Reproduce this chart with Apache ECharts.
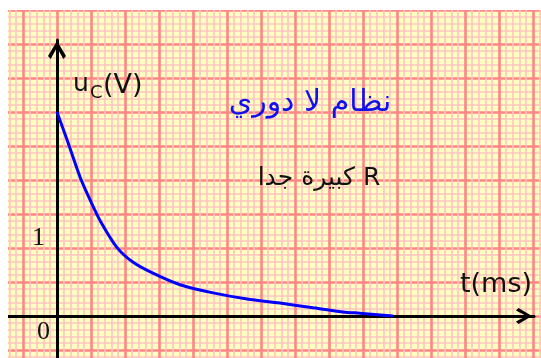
<!DOCTYPE html>
<html>
<head>
<meta charset="utf-8">
<script src="https://cdn.jsdelivr.net/npm/echarts@6/dist/echarts.min.js"></script>
<style>
  html, body { margin: 0; padding: 0; background: #fff; }
  #chart { width: 541px; height: 358px; }
</style>
</head>
<body>
<div id="chart"></div>
<script>
// discharge of the capacitor
// t in ms (one big square = 1), uC in volts
var tValues  = [0, 0.29, 0.68, 0.97, 1.26, 1.76, 2.24, 2.82, 3.62, 4.59, 5.59, 6.56, 7.53, 8.41, 8.91, 9.88];
var ucValues = [3.0, 2.60, 2.04, 1.71, 1.41, 1.01, 0.79, 0.63, 0.46, 0.34, 0.25, 0.19, 0.12, 0.06, 0.04, 0.0];
var yTickLabels = [0, 1];
var yAxisName = 'V';
var xAxisName = 't(ms)';
var titleText = 'نظام لا دوري';
var noteText = '\u202BR كبيرة جدا\u202C';

var curve = [];
for (var i = 0; i < tValues.length; i++) {
  curve.push([tValues[i], ucValues[i]]);
}

// open arrow head, pointing up (echarts turns it along the axis)
var arrowPath = 'path://M5,0 L10,8.4 L8.5,10 L5,3.6 L1.5,10 L0,8.4 Z';

var myChart = echarts.init(document.getElementById('chart'), null, { renderer: 'canvas' });

var option = {
  backgroundColor: '#ffffff',
  animation: false,
  grid: [
    // graph paper
    { left: -11, top: -24, width: 578, height: 408, show: true, outerBoundsMode: 'none',
      backgroundColor: '#FFFFC2', borderWidth: 0, z: 0 },
    // the plot itself
    { left: 8, top: 40, right: 7, bottom: 0, outerBoundsMode: 'none' }
  ],
  xAxis: [
    {
      gridIndex: 0, type: 'value', min: 0, max: 17, interval: 1,
      axisLine: { show: false }, axisTick: { show: false }, axisLabel: { show: false },
      splitLine: { show: true, lineStyle: { color: '#FF8686', width: 2.6 } },
      minorTick: { show: false, splitNumber: 5 },
      minorSplitLine: { show: true, lineStyle: { color: '#FFC4C0', width: 1.6 } }
    },
    {
      gridIndex: 1, type: 'value', min: -49 / 34, max: 477 / 34,
      axisLine: {
        onZero: true,
        lineStyle: { color: '#000', width: 3 },
        symbol: ['none', arrowPath],
        symbolSize: [16, 21],
        symbolOffset: [0, -10]
      },
      axisTick: { show: false }, axisLabel: { show: false }, splitLine: { show: false }
    }
  ],
  yAxis: [
    {
      gridIndex: 0, type: 'value', min: 0, max: 12, interval: 1,
      axisLine: { show: false }, axisTick: { show: false }, axisLabel: { show: false },
      splitLine: { show: true, lineStyle: { color: '#FF8686', width: 2.6 } },
      minorTick: { show: false, splitNumber: 5 },
      minorSplitLine: { show: true, lineStyle: { color: '#FFC4C0', width: 1.6 } }
    },
    {
      gridIndex: 1, type: 'value', min: -42 / 68, max: 276 / 68,
      axisLine: {
        onZero: true,
        lineStyle: { color: '#000', width: 3 },
        symbol: ['none', arrowPath],
        symbolSize: [18, 20],
        symbolOffset: [0, -10]
      },
      axisTick: { show: false },
      splitLine: { show: false },
      axisLabel: {
        show: true,
        customValues: yTickLabels,
        // labels sit at the grid edge, pull them over to the zero line
        margin: -42,
        formatter: function (v) {
          return v === 0 ? '{z|0}' : '{o|' + v + '}';
        },
        rich: {
          z: { fontFamily: 'Liberation Serif', fontSize: 26, color: '#111', padding: [32, 0, 0, 0] },
          o: { fontFamily: 'Liberation Serif', fontSize: 26, color: '#111', padding: [0, 5, 20, 0] }
        }
      }
    }
  ],
  series: [{
    type: 'line',
    xAxisIndex: 1,
    yAxisIndex: 1,
    data: curve,
    smooth: 0.3,
    showSymbol: false,
    lineStyle: { color: '#0000FF', width: 3 },
    z: 5
  }],
  graphic: [
    // white margin round the paper
    { type: 'rect', left: 0, top: 0, shape: { width: 541, height: 10 }, style: { fill: '#fff' }, z: 1 },
    { type: 'rect', left: 0, top: 0, shape: { width: 8, height: 358 }, style: { fill: '#fff' }, z: 1 },
    // axis names
    { type: 'text', x: 73, y: 84, z: 10,
      style: { text: 'u', font: '25px "DejaVu Sans"', fill: '#111', verticalAlign: 'middle' } },
    { type: 'text', x: 90, y: 93, z: 10,
      style: { text: 'C', font: '18px "DejaVu Sans"', fill: '#111', verticalAlign: 'middle' } },
    { type: 'text', x: 103, y: 86, z: 10,
      style: { text: '(' + yAxisName + ')', font: '27px "DejaVu Sans"', fill: '#111', verticalAlign: 'middle' } },
    { type: 'text', x: 496, y: 285, z: 10,
      style: { text: xAxisName, font: '27px "DejaVu Sans"', fill: '#111', align: 'center', verticalAlign: 'middle' } },
    // annotations
    { type: 'text', x: 310, y: 103, z: 10,
      style: { text: titleText, font: '30px "DejaVu Sans"', fill: '#1010F0', align: 'center', verticalAlign: 'middle' } },
    { type: 'text', x: 319, y: 178, z: 10,
      style: { text: noteText, font: '25px "DejaVu Sans"', fill: '#111', align: 'center', verticalAlign: 'middle' } }
  ]
};

myChart.setOption(option);
</script>
</body>
</html>
